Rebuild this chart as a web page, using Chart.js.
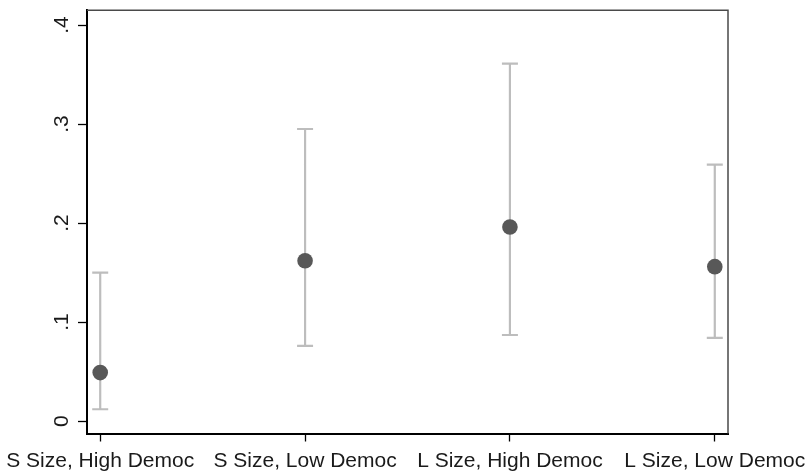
<!DOCTYPE html>
<html>
<head>
<meta charset="utf-8">
<script src="https://cdn.jsdelivr.net/npm/chart.js@4"></script>
<style>
  html, body { margin: 0; padding: 0; background: #fff; }
  #chart { display: block; }
</style>
</head>
<body>
<canvas id="chart" width="806" height="473"></canvas>
<script>
// Point estimates with confidence intervals
const categories = ['S Size, High Democ', 'S Size, Low Democ', 'L Size, High Democ', 'L Size, Low Democ'];
const estimates = [0.049, 0.162, 0.196, 0.156];
const ciLow = [0.012, 0.076, 0.087, 0.084];
const ciHigh = [0.150, 0.295, 0.361, 0.259];
const yTicks = [0, 0.1, 0.2, 0.3, 0.4];

const FONT = '"Liberation Sans", Arial, Helvetica, sans-serif';

// Error bars: one vertical segment per category, broken by null points
const ciPoints = [];
categories.forEach((c, i) => {
    ciPoints.push({ x: i, y: ciLow[i] });
    ciPoints.push({ x: i, y: ciHigh[i] });
    ciPoints.push({ x: i + 0.5, y: null });
});

// Top and right edge of the plot region
const frame = {
    id: 'frame',
    afterDraw(chart) {
        const { ctx, chartArea: a } = chart;
        ctx.save();
        ctx.strokeStyle = '#4a4a4a';
        ctx.lineWidth = 1.5;
        ctx.beginPath();
        ctx.moveTo(a.left, a.top);
        ctx.lineTo(a.right, a.top);
        ctx.lineTo(a.right, a.bottom);
        ctx.stroke();
        ctx.restore();
    }
};

new Chart(document.getElementById('chart'), {
    type: 'scatter',
    data: {
        datasets: [
            {
                label: 'Estimate',
                data: estimates.map((v, i) => ({ x: i, y: v })),
                backgroundColor: '#585858',
                borderWidth: 0,
                pointRadius: 7.8,
                pointHoverRadius: 7.8,
                order: 0
            },
            {
                label: 'CI',
                type: 'line',
                data: ciPoints,
                borderColor: '#bdbdbd',
                borderWidth: 2.2,
                spanGaps: false,
                pointStyle: 'line',
                pointRadius: 8,
                pointHoverRadius: 8,
                pointBorderColor: '#bdbdbd',
                pointBorderWidth: 2.2,
                order: 1
            }
        ]
    },
    options: {
        responsive: false,
        animation: false,
        events: [],
        layout: { padding: { left: 0, right: 78, top: 7, bottom: 0 } },
        plugins: {
            legend: { display: false },
            tooltip: { enabled: false }
        },
        scales: {
            x: {
                type: 'linear',
                min: -0.0645,
                max: 3.0645,
                afterBuildTicks: s => { s.ticks = categories.map((c, i) => ({ value: i })); },
                afterFit: s => { s.height = 39.5; s.paddingLeft = 0; s.paddingRight = 0; },
                grid: { drawOnChartArea: false, tickLength: 8, tickColor: '#000', tickWidth: 1.3 },
                border: { color: '#000', width: 2 },
                ticks: {
                    autoSkip: false,
                    maxRotation: 0,
                    padding: 7,
                    color: '#1a1a1a',
                    font: { family: FONT, size: 21 },
                    callback: v => categories[v]
                }
            },
            y: {
                min: -0.0125,
                max: 0.415,
                afterBuildTicks: s => { s.ticks = yTicks.map(v => ({ value: v })); },
                afterFit: s => { s.width = 87; s.paddingTop = 0; s.paddingBottom = 0; },
                grid: { drawOnChartArea: false, tickLength: 9, tickColor: '#000', tickWidth: 1.3 },
                border: { color: '#000', width: 2 },
                ticks: {
                    minRotation: 90,
                    maxRotation: 90,
                    crossAlign: 'center',
                    padding: 7,
                    color: '#1a1a1a',
                    font: { family: FONT, size: 21 },
                    callback: v => v === 0 ? '0' : v.toFixed(1).replace(/^0/, '')
                }
            }
        }
    },
    plugins: [frame]
});
</script>
</body>
</html>
